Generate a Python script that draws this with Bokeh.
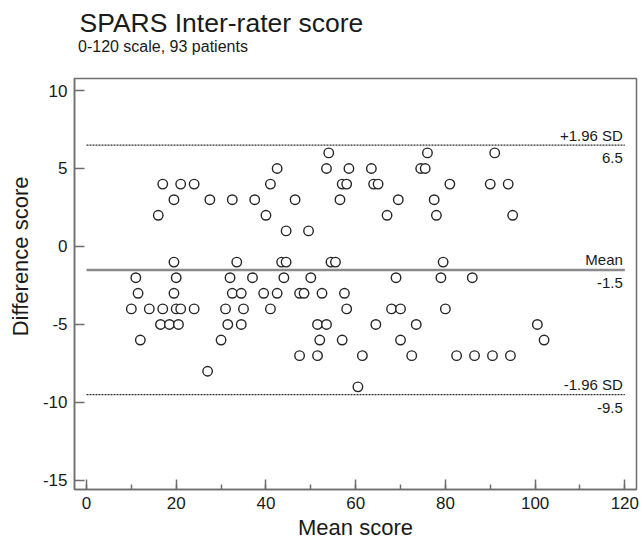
from bokeh.plotting import figure
from bokeh.models import Range1d, SingleIntervalTicker, Title, ColumnDataSource, PrintfTickFormatter
from bokeh.core.properties import value
from bokeh.embed import file_html
from bokeh.resources import INLINE

# ---------------- data ----------------
title_text = "SPARS Inter-rater score"
subtitle_text = "0-120 scale, 93 patients"
x_label = "Mean score"
y_label = "Difference score"

# Bland-Altman points: mean of two raters (x) and their difference (y)
mean_score = [
    54, 76, 91,
    42.5, 53.5, 58.5, 63.5, 74.5, 75.5,
    17, 21, 24, 41, 57, 58, 64, 65, 81, 90, 94,
    19.5, 27.5, 32.5, 37.5, 46.5, 56.5, 69.5, 77.5,
    16, 40, 67, 78, 95,
    44.5, 49.5,
    19.5, 33.5, 43.5, 44.5, 54.5, 55.5, 79.5,
    11, 20, 32, 37, 44, 50, 69, 79, 86,
    11.5, 19.5, 32.5, 34.5, 39.5, 42.5, 47.5, 48.5, 52.5, 57.5,
    10, 14, 17, 20, 21, 24, 31, 35, 41, 58, 68, 70, 80,
    16.5, 18.5, 20.5, 31.5, 34.5, 51.5, 53.5, 64.5, 73.5, 100.5,
    12, 30, 52, 57, 70, 102,
    47.5, 51.5, 61.5, 72.5, 82.5, 86.5, 90.5, 94.5,
    27,
    60.5,
]
diff_score = (
    [6] * 3 + [5] * 6 + [4] * 11 + [3] * 8 + [2] * 5 + [1] * 2
    + [-1] * 7 + [-2] * 9 + [-3] * 10 + [-4] * 13 + [-5] * 10
    + [-6] * 6 + [-7] * 8 + [-8] * 1 + [-9] * 1
)

mean_diff = -1.5
upper_loa = 6.5
lower_loa = -9.5
loa_values = [upper_loa, lower_loa]
line_values = [upper_loa, mean_diff, lower_loa]
line_names = ["+1.96 SD", "Mean", "-1.96 SD"]
line_value_labels = ["6.5", "-1.5", "-9.5"]
x_span = [0, 120]

# ---------------- figure ----------------
FONT = "Liberation Sans"
AXIS_GREY = "#6e6e6e"
TEXT = "#1a1a1a"

p = figure(
    width=643, height=547, output_backend="svg", toolbar_location=None,
    title=None,
    x_range=Range1d(-2.67, 122.6), y_range=Range1d(-15.58, 10.77),
    min_border_left=74, min_border_right=7, min_border_top=78, min_border_bottom=58,
)
p.background_fill_color = "white"
p.border_fill_color = "white"
p.outline_line_color = AXIS_GREY
p.outline_line_width = 1.5
p.xgrid.visible = False
p.ygrid.visible = False

# x axis
xa = p.xaxis[0]
xa.ticker = SingleIntervalTicker(interval=20, num_minor_ticks=2)
xa.axis_label = x_label
xa.axis_label_text_font = FONT
xa.axis_label_text_font_size = "22px"
xa.axis_label_text_font_style = "normal"
xa.axis_label_text_color = TEXT
xa.axis_label_standoff = 3
xa.major_label_text_font = FONT
xa.major_label_text_font_size = "17px"
xa.major_label_text_color = TEXT
xa.major_label_standoff = 7
xa.major_tick_in = 10
xa.major_tick_out = 0
xa.minor_tick_in = 5
xa.minor_tick_out = 0
xa.axis_line_color = AXIS_GREY
xa.axis_line_width = 1.5
xa.major_tick_line_color = AXIS_GREY
xa.major_tick_line_width = 1.5
xa.minor_tick_line_color = AXIS_GREY
xa.minor_tick_line_width = 1.5

# y axis
ya = p.yaxis[0]
ya.ticker = SingleIntervalTicker(interval=5, num_minor_ticks=0)
ya.formatter = PrintfTickFormatter(format="%d")
ya.axis_label = None
ya.major_label_text_font = FONT
ya.major_label_text_font_size = "17px"
ya.major_label_text_color = TEXT
ya.major_label_standoff = 7
ya.major_tick_in = 10
ya.major_tick_out = 0
ya.minor_tick_line_color = None
ya.axis_line_color = AXIS_GREY
ya.axis_line_width = 1.5
ya.major_tick_line_color = AXIS_GREY
ya.major_tick_line_width = 1.5

# y-axis title as a side title (allows vertical offset like the reference)
p.add_layout(Title(text=y_label, align="right", offset=98, vertical_align="top",
                   standoff=10, text_font=FONT, text_font_size="22px",
                   text_font_style="normal", text_color=TEXT), "left")

# chart title and subtitle (first added = closest to the plot)
p.add_layout(Title(text=subtitle_text, align="left", offset=3.5, vertical_align="top",
                   standoff=41.8, text_font=FONT, text_font_size="16px",
                   text_font_style="normal", text_color=TEXT), "above")
p.add_layout(Title(text=title_text, align="left", offset=5, vertical_align="bottom",
                   standoff=-40, text_font=FONT, text_font_size="26.5px",
                   text_font_style="normal", text_color=TEXT), "above")

# limit-of-agreement lines (dashed) and mean line (solid)
loa_src = ColumnDataSource(dict(
    x0=[x_span[0]] * len(loa_values), x1=[x_span[1]] * len(loa_values),
    y=loa_values))
p.segment(x0="x0", x1="x1", y0="y", y1="y", source=loa_src,
          line_color="#2e2e2e", line_width=1.2, line_dash="2 1")
p.segment(x0=[x_span[0]], x1=[x_span[1]], y0=[mean_diff], y1=[mean_diff],
          line_color="#8a8a8a", line_width=2.5)

# points
p.scatter(mean_score, diff_score, marker="circle", size=9.5,
          fill_color="white", line_color="#262626", line_width=1.4)

# line annotations
txt_src = ColumnDataSource(dict(
    x=[x_span[1]] * len(line_values), y=line_values,
    name=line_names, val=line_value_labels))
p.text(x="x", y="y", text="name", source=txt_src, text_align="right",
       text_baseline="middle", x_offset=-2, y_offset=-10,
       text_font=value(FONT), text_font_size="15px", text_color=TEXT)
p.text(x="x", y="y", text="val", source=txt_src, text_align="right",
       text_baseline="middle", x_offset=-2, y_offset=13,
       text_font=value(FONT), text_font_size="15px", text_color=TEXT)

open("out.html", "w").write(file_html(p, INLINE))
